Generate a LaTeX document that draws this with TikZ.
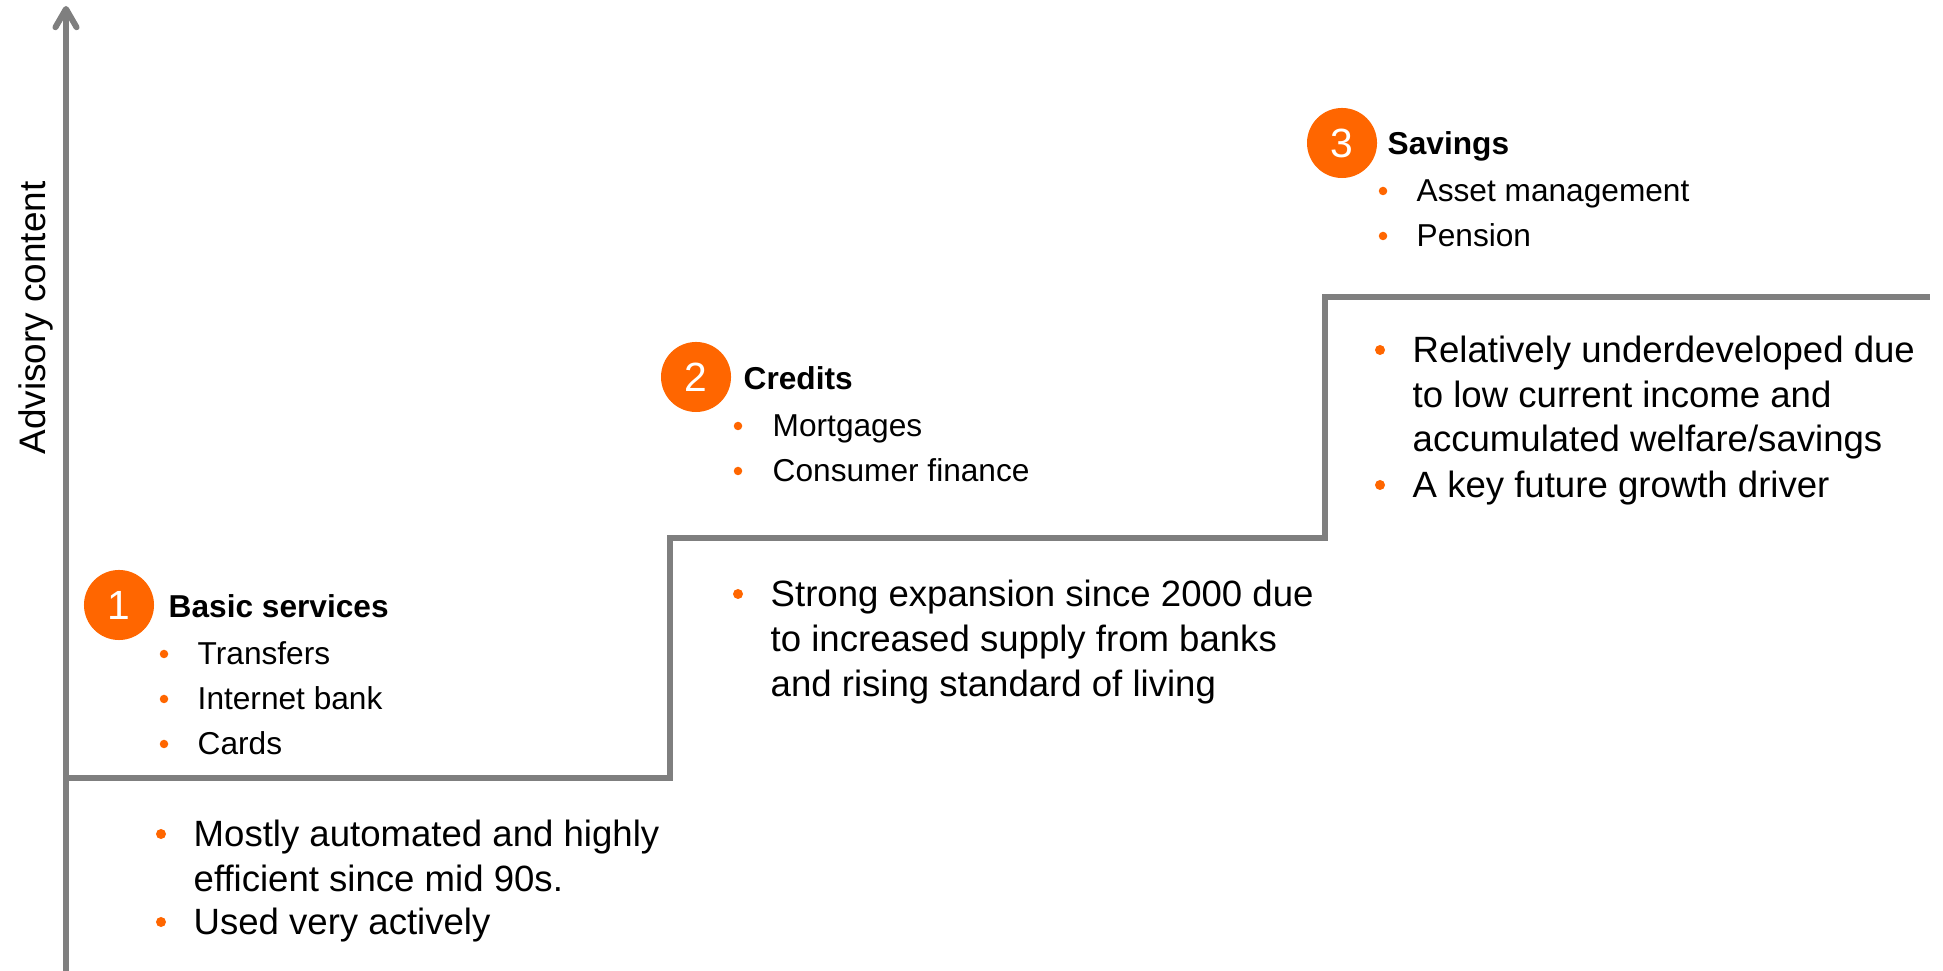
\documentclass[tikz,border=0pt]{standalone}
\usepackage{fontspec}
\setmainfont{Liberation Sans}
\usetikzlibrary{arrows.meta}
\definecolor{stairgray}{HTML}{7F7F7F}
\definecolor{accent}{HTML}{FF6600}

\begin{document}
\begin{tikzpicture}[x=0.01cm, y=-0.01cm,
  stair/.style={draw=stairgray, line width=1.7pt},
  numdot/.style={circle, fill=accent, text=white, minimum size=0.70cm, inner sep=0pt,
                 font=\fontsize{11.6pt}{12pt}\selectfont},
  head/.style={anchor=base west, inner sep=0pt, font=\bfseries\fontsize{9pt}{11pt}\selectfont},
  small/.style={anchor=base west, inner sep=0pt, font=\fontsize{9pt}{11pt}\selectfont},
  big/.style={anchor=base west, inner sep=0pt, font=\fontsize{10.4pt}{12pt}\selectfont},
  sdot/.style={circle, fill=accent, inner sep=0pt, minimum size=0.085cm},
  bdot/.style={circle, fill=accent, inner sep=0pt, minimum size=0.10cm},
]
\useasboundingbox (0,0) rectangle (1943,971);

% vertical axis
\coordinate (axbot) at (66,980);
\coordinate (axtop) at (66,6);
\draw[stair, -{Straight Barb[length=5.2pt, width=6pt, round]}] (axbot) -- (axtop);
\node[rotate=90, anchor=base, inner sep=0pt, font=\fontsize{10.5pt}{12pt}\selectfont]
  (ylabel) at (45,318) {Advisory content};

% staircase
\coordinate (s0) at (66,778);
\coordinate (s1) at (670,778);
\coordinate (s2) at (670,538);
\coordinate (s3) at (1325,538);
\coordinate (s4) at (1325,297);
\coordinate (s5) at (1930,297);
\draw[stair] (s0) -- (s1) -- (s2) -- (s3) -- (s4) -- (s5);

% step 1: basic services
\node[numdot] (n1) at (119,605) {1};
\node[head] (h1) at (168,618) {Basic services};
\node[sdot] (d11) at (164,654) {};
\node[small] (p11) at (197,665) {Transfers};
\node[sdot] (d12) at (164,699) {};
\node[small] (p12) at (197,710) {Internet bank};
\node[sdot] (d13) at (164,744) {};
\node[small] (p13) at (197,755) {Cards};

\node[bdot] (e11) at (161,834) {};
\node[big] (q11) at (193,847) {Mostly automated and highly};
\node[big] (q11b) at (193,892) {efficient since mid 90s.};
\node[bdot] (e12) at (161,922) {};
\node[big] (q12) at (193,935) {Used very actively};

% step 2: credits
\node[numdot] (n2) at (696,377) {2};
\node[head] (h2) at (743,390) {Credits};
\node[sdot] (d21) at (738,426) {};
\node[small] (p21) at (772,437) {Mortgages};
\node[sdot] (d22) at (738,471) {};
\node[small] (p22) at (772,482) {Consumer finance};

\node[bdot] (e21) at (738,594) {};
\node[big] (q21) at (770,607) {Strong expansion since 2000 due};
\node[big] (q21b) at (770,652) {to increased supply from banks};
\node[big] (q21c) at (770,697) {and rising standard of living};

% step 3: savings
\node[numdot] (n3) at (1342,143) {3};
\node[head] (h3) at (1387,155) {Savings};
\node[sdot] (d31) at (1383,191) {};
\node[small] (p31) at (1416,202) {Asset management};
\node[sdot] (d32) at (1383,236) {};
\node[small] (p32) at (1416,247) {Pension};

\node[bdot] (e31) at (1380,350) {};
\node[big] (q31) at (1412,363) {Relatively underdeveloped due};
\node[big] (q31b) at (1412,408) {to low current income and};
\node[big] (q31c) at (1412,452) {accumulated welfare/savings};
\node[bdot] (e32) at (1380,485) {};
\node[big] (q32) at (1412,498) {A key future growth driver};
\end{tikzpicture}
\end{document}
